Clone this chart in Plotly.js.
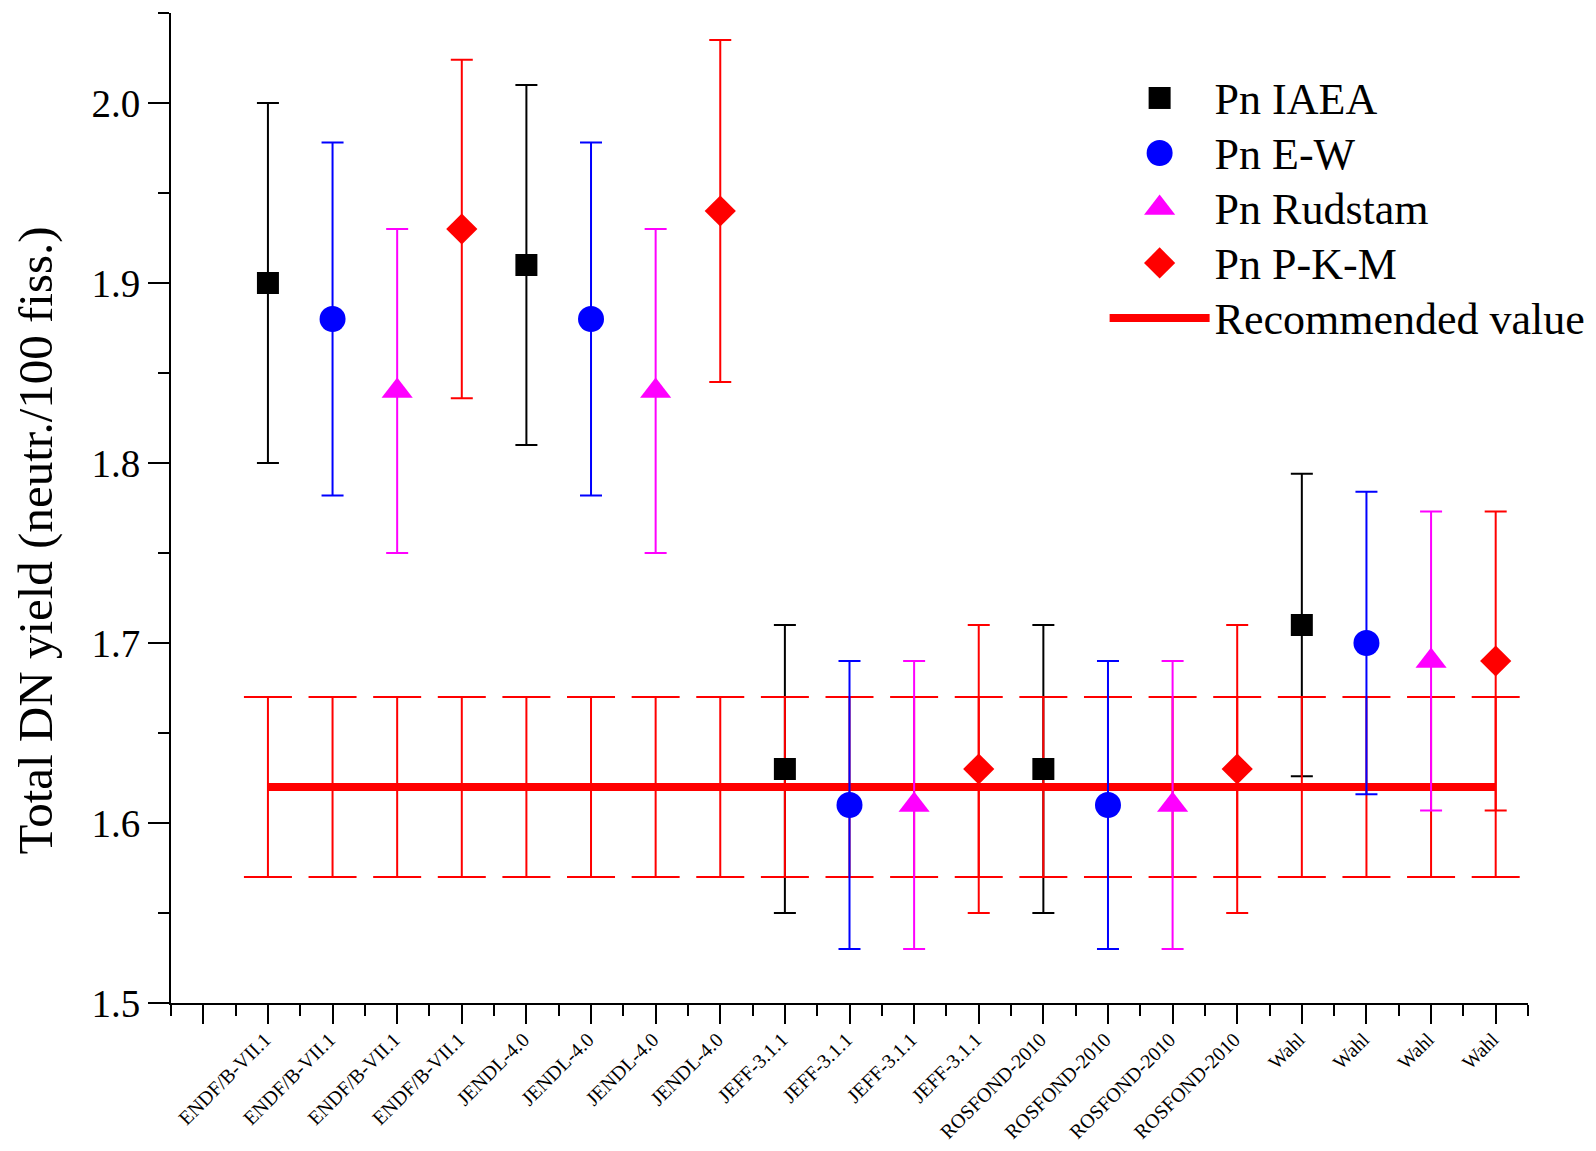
<!DOCTYPE html>
<html><head><meta charset="utf-8">
<script src="https://cdn.plot.ly/plotly-3.0.1.min.js"></script>
<style>html,body{margin:0;padding:0;background:#fff}#chart{width:1596px;height:1151px}</style>
</head><body><div id="chart"></div>
<script>
const tickPositions = [0,1,2,3,4,5,6,7,8,9,10,11,12,13,14,15,16,17,18,19,20];
const tickLabels = ["", "ENDF/B-VII.1","ENDF/B-VII.1","ENDF/B-VII.1","ENDF/B-VII.1",
  "JENDL-4.0","JENDL-4.0","JENDL-4.0","JENDL-4.0",
  "JEFF-3.1.1","JEFF-3.1.1","JEFF-3.1.1","JEFF-3.1.1",
  "ROSFOND-2010","ROSFOND-2010","ROSFOND-2010","ROSFOND-2010",
  "Wahl","Wahl","Wahl","Wahl"];

const xIAEA = [1, 5, 9, 13, 17];
const yIAEA = [1.90, 1.91, 1.63, 1.63, 1.71];
const errIAEA = [0.10, 0.10, 0.08, 0.08, 0.084];

const xEW = [2, 6, 10, 14, 18];
const yEW = [1.88, 1.88, 1.61, 1.61, 1.70];
const errEW = [0.098, 0.098, 0.08, 0.08, 0.084];

const xRud = [3, 7, 11, 15, 19];
const yRud = [1.84, 1.84, 1.61, 1.61, 1.69];
const errRud = [0.09, 0.09, 0.08, 0.08, 0.083];

const xPKM = [4, 8, 12, 16, 20];
const yPKM = [1.93, 1.94, 1.63, 1.63, 1.69];
const errPKM = [0.094, 0.095, 0.08, 0.08, 0.083];

const xRec = [1,2,3,4,5,6,7,8,9,10,11,12,13,14,15,16,17,18,19,20];
const yRec = [1.62,1.62,1.62,1.62,1.62,1.62,1.62,1.62,1.62,1.62,1.62,1.62,1.62,1.62,1.62,1.62,1.62,1.62,1.62,1.62];
const errRec = [0.05,0.05,0.05,0.05,0.05,0.05,0.05,0.05,0.05,0.05,0.05,0.05,0.05,0.05,0.05,0.05,0.05,0.05,0.05,0.05];

const FONT = "Liberation Serif, Times New Roman, serif";
const sizes = {iaea: 22, ew: 26, rud: 27, pkm: 24};

function errSpec(arr, color, w) {
  return {type: 'data', array: arr, visible: true, color: color, thickness: 2, width: w};
}

const traces = [
  {x: xIAEA, y: yIAEA, type: 'scatter', mode: 'markers', showlegend: false, hoverinfo: 'skip',
   marker: {symbol: 'square', size: sizes.iaea, color: '#000000', opacity: 0},
   error_y: errSpec(errIAEA, '#000000', 11)},
  {x: xRec, y: yRec, type: 'scatter', mode: 'lines', name: 'Recommended value', legendrank: 5,
   line: {color: '#ff0000', width: 8},
   error_y: errSpec(errRec, '#ff0000', 24)},
  {x: xEW, y: yEW, type: 'scatter', mode: 'markers', name: 'Pn E-W', legendrank: 2,
   marker: {symbol: 'circle', size: sizes.ew, color: '#0000ff'},
   error_y: errSpec(errEW, '#0000ff', 11)},
  {x: xRud, y: yRud, type: 'scatter', mode: 'markers', name: 'Pn Rudstam', legendrank: 3,
   marker: {symbol: 'triangle-up', size: sizes.rud, color: '#ff00ff'},
   error_y: errSpec(errRud, '#ff00ff', 11)},
  {x: xPKM, y: yPKM, type: 'scatter', mode: 'markers', name: 'Pn P-K-M', legendrank: 4,
   marker: {symbol: 'diamond', size: sizes.pkm, color: '#ff0000'},
   error_y: errSpec(errPKM, '#ff0000', 11)},
  {x: xIAEA, y: yIAEA, type: 'scatter', mode: 'markers', name: 'Pn IAEA', legendrank: 1,
   marker: {symbol: 'square', size: sizes.iaea, color: '#000000'}}
];

const layout = {
  width: 1596, height: 1151,
  margin: {l: 171, r: 68, t: 13, b: 148, pad: 0},
  paper_bgcolor: '#ffffff', plot_bgcolor: '#ffffff',
  font: {family: FONT, color: '#000000'},
  showlegend: true,
  legend: {x: 0.688, y: 0.947, xanchor: 'left', yanchor: 'top',
    font: {family: FONT, size: 40, color: '#000000'},
    bgcolor: 'rgba(0,0,0,0)', borderwidth: 0, itemwidth: 100, tracegroupgap: 0},
  xaxis: {
    range: [-0.5, 20.5], showgrid: false, zeroline: false,
    showline: true, linecolor: '#000000', linewidth: 2, mirror: false,
    tickmode: 'array', tickvals: tickPositions, ticktext: tickLabels,
    ticks: 'outside', ticklen: 19, tickwidth: 2, tickcolor: '#000000',
    tickangle: -45, tickfont: {family: FONT, size: 20, color: '#000000'},
    ticklabelstandoff: -4, ticklabelshift: -3,
    minor: {ticks: 'outside', ticklen: 11, tickwidth: 2, tickcolor: '#000000', tick0: 0.5, dtick: 1, showgrid: false}
  },
  yaxis: {
    range: [1.5, 2.05], showgrid: false, zeroline: false,
    showline: true, linecolor: '#000000', linewidth: 2,
    tickmode: 'linear', tick0: 1.5, dtick: 0.1, tickformat: '.1f',
    ticks: 'outside', ticklen: 21, tickwidth: 2, tickcolor: '#000000',
    tickfont: {family: FONT, size: 39, color: '#000000'},
    ticklabelstandoff: 0,
    minor: {ticks: 'outside', ticklen: 11, tickwidth: 2, tickcolor: '#000000', tick0: 1.5, dtick: 0.05, showgrid: false}
  },
  annotations: [{
    text: 'Total DN yield (neutr./100 fiss.)', xref: 'paper', yref: 'paper',
    x: -0.1, y: 0.4676, xanchor: 'center', yanchor: 'middle', textangle: -90,
    showarrow: false, font: {family: FONT, size: 49, color: '#000000'}
  }]
};

Plotly.newPlot('chart', traces, layout, {displayModeBar: false, staticPlot: true}).then(function() {
  const legendScale = {'Pn IAEA': sizes.iaea/16, 'Pn E-W': sizes.ew/16, 'Pn Rudstam': sizes.rud/16, 'Pn P-K-M': sizes.pkm/16};
  document.querySelectorAll('#chart .legend .scrollbox').forEach(function(s) {
    s.removeAttribute('clip-path');
  });
  document.querySelectorAll('#chart .legend g.traces').forEach(function(g) {
    const t = g.querySelector('text.legendtext');
    if (!t) return;
    t.style.fontSize = '44px';
    const k = legendScale[t.textContent];
    if (!k) return;
    g.querySelectorAll('path.scatterpts').forEach(function(p) {
      const tr = p.getAttribute('transform') || '';
      p.setAttribute('transform', tr + ' scale(' + k + ')');
    });
  });
});
</script>
</body></html>
